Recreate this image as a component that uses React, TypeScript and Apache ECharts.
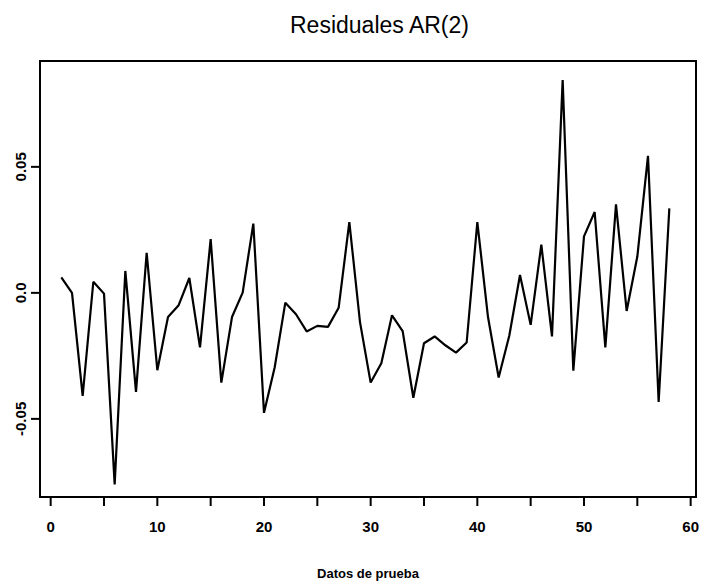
import React, { useEffect, useRef } from "react";
import * as echarts from "echarts";

const titleText = "Residuales AR(2)";
const xAxisName = "Datos de prueba";

const xTickValues = [0, 5, 10, 15, 20, 25, 30, 35, 40, 45, 50, 55, 60];
const xLabelValues = [0, 10, 20, 30, 40, 50, 60];
const yTickValues = [-0.05, 0, 0.05];
const yLabelTexts: Record<string, string> = { "-0.05": "-0.05", "0": "0.0", "0.05": "0.05" };

const residuals = [
  0.0061, 0.0, -0.0409, 0.0044, -0.0003, -0.076, 0.0087, -0.0393, 0.0159, -0.0307,
  -0.0096, -0.0049, 0.0059, -0.0216, 0.0213, -0.0356, -0.0096, 0.0001, 0.0275, -0.0476,
  -0.0296, -0.0039, -0.0085, -0.0153, -0.0131, -0.0135, -0.0059, 0.0281, -0.0116, -0.0356,
  -0.0279, -0.0089, -0.0152, -0.0416, -0.02, -0.0173, -0.0208, -0.0237, -0.0197, 0.0281,
  -0.0096, -0.0336, -0.0169, 0.0071, -0.0127, 0.0191, -0.0173, 0.0844, -0.0309, 0.0224,
  0.0321, -0.0216, 0.0351, -0.0072, 0.0144, 0.0544, -0.0433, 0.0335,
];

const X_MIN = -1;
const X_MAX = 60.5;
const Y_MIN = -0.081;
const Y_MAX = 0.092;
const TICK_LEN = 9;

export default function App() {
  const ref = useRef<HTMLDivElement>(null);
  useEffect(() => {
    document.body.style.margin = "0";
    if (!ref.current) return;
    const chart = echarts.init(ref.current, undefined, { renderer: "svg" });
    const data = residuals.map((v, i) => [i + 1, v]);
    const font = "'Liberation Sans', Arial, Helvetica, sans-serif";
    const frameLine = { show: true, onZero: false, lineStyle: { color: "#000", width: 2 } };
    chart.setOption({
      animation: false,
      title: {
        text: titleText,
        left: 285,
        top: 8,
        textStyle: { fontFamily: font, fontSize: 23, fontWeight: "normal", color: "#000" },
      },
      grid: { left: 40, right: 2, top: 61, bottom: 90 },
      xAxis: [
        {
          type: "value",
          position: "bottom",
          min: X_MIN,
          max: X_MAX,
          name: xAxisName,
          nameLocation: "middle",
          nameGap: 70,
          nameTextStyle: { fontFamily: font, fontSize: 13, fontWeight: "bold", color: "#000" },
          axisLine: frameLine,
          splitLine: { show: false },
          axisTick: { show: false },
          axisLabel: {
            customValues: xLabelValues,
            margin: 22,
            fontFamily: font,
            fontSize: 15,
            fontWeight: "bold",
            color: "#000",
            formatter: (v: number) => String(v),
          },
        },
        {
          type: "value",
          position: "top",
          min: X_MIN,
          max: X_MAX,
          axisLine: frameLine,
          axisTick: { show: false },
          axisLabel: { show: false },
          splitLine: { show: false },
        },
      ],
      yAxis: [
        {
          type: "value",
          position: "left",
          min: Y_MIN,
          max: Y_MAX,
          axisLine: frameLine,
          splitLine: { show: false },
          axisTick: { show: false },
          axisLabel: {
            customValues: yTickValues,
            rotate: 90,
            margin: 12,
            fontFamily: font,
            fontSize: 15,
            fontWeight: "bold",
            color: "#000",
            formatter: (v: number) => yLabelTexts[String(Math.round(v * 100) / 100)] ?? String(v),
          },
        },
        {
          type: "value",
          position: "right",
          min: Y_MIN,
          max: Y_MAX,
          axisLine: frameLine,
          axisTick: { show: false },
          axisLabel: { show: false },
          splitLine: { show: false },
        },
      ],
      series: [
        {
          type: "line",
          xAxisIndex: 0,
          yAxisIndex: 0,
          data,
          symbol: "none",
          lineStyle: { color: "#000", width: 2.2 },
        },
      ],
    });

    // Tick marks placed through the chart's own scales
    const finder = { xAxisIndex: 0, yAxisIndex: 0 };
    const tickLines: any[] = [];
    xTickValues.forEach((v) => {
      const p = chart.convertToPixel(finder, [v, Y_MIN]) as number[];
      if (!p) return;
      tickLines.push({
        type: "line",
        shape: { x1: p[0], y1: p[1], x2: p[0], y2: p[1] + TICK_LEN },
        style: { stroke: "#000", lineWidth: 2 },
        silent: true,
        z: 100,
      });
    });
    yTickValues.forEach((v) => {
      const p = chart.convertToPixel(finder, [X_MIN, v]) as number[];
      if (!p) return;
      tickLines.push({
        type: "line",
        shape: { x1: p[0] - TICK_LEN, y1: p[1], x2: p[0], y2: p[1] },
        style: { stroke: "#000", lineWidth: 2 },
        silent: true,
        z: 100,
      });
    });
    chart.setOption({ graphic: { elements: tickLines } });

    return () => chart.dispose();
  }, []);
  return <div ref={ref} style={{ width: 702, height: 587 }} />;
}
